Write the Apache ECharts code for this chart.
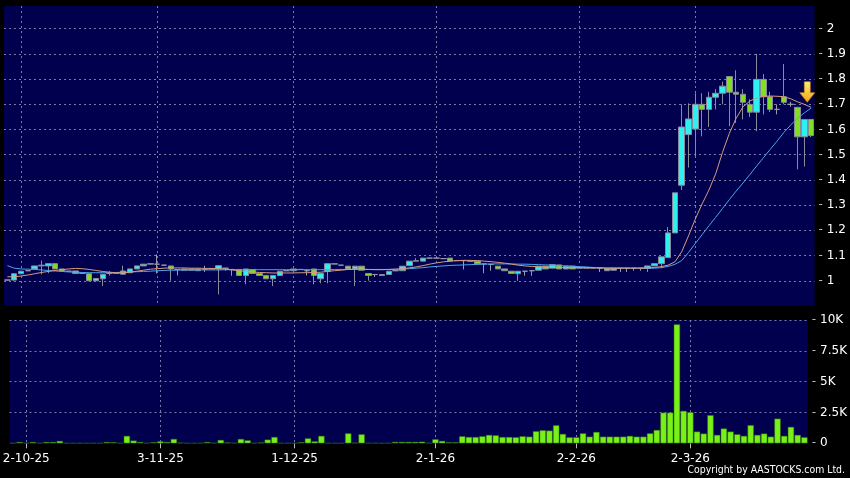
<!DOCTYPE html>
<html><head><meta charset="utf-8">
<script src="https://cdn.jsdelivr.net/npm/echarts@6/dist/echarts.min.js"></script>
<style>html,body{margin:0;padding:0;background:#000;}#c{width:850px;height:478px;}</style>
</head><body><div id="c"></div>
<script>
const dates = ["29-9-25","30-9-25",
"2-10-25","3-10-25","6-10-25","8-10-25","9-10-25","10-10-25","13-10-25","14-10-25","15-10-25","16-10-25","17-10-25","20-10-25","21-10-25","22-10-25","23-10-25","24-10-25","27-10-25","28-10-25","30-10-25","31-10-25",
"3-11-25","4-11-25","5-11-25","6-11-25","7-11-25","10-11-25","11-11-25","12-11-25","13-11-25","14-11-25","17-11-25","18-11-25","19-11-25","20-11-25","21-11-25","24-11-25","25-11-25","26-11-25","27-11-25","28-11-25",
"1-12-25","2-12-25","3-12-25","4-12-25","5-12-25","8-12-25","9-12-25","10-12-25","11-12-25","12-12-25","15-12-25","16-12-25","17-12-25","18-12-25","19-12-25","22-12-25","23-12-25","24-12-25","29-12-25","30-12-25","31-12-25",
"2-1-26","5-1-26","6-1-26","7-1-26","8-1-26","9-1-26","12-1-26","13-1-26","14-1-26","15-1-26","16-1-26","19-1-26","20-1-26","21-1-26","22-1-26","23-1-26","26-1-26","27-1-26","28-1-26","29-1-26","30-1-26",
"2-2-26","3-2-26","4-2-26","5-2-26","6-2-26","9-2-26","10-2-26","11-2-26","12-2-26","13-2-26","16-2-26","20-2-26","23-2-26","24-2-26","25-2-26","26-2-26","27-2-26",
"2-3-26","3-3-26","4-3-26","5-3-26","6-3-26","9-3-26","10-3-26","11-3-26","12-3-26","13-3-26","16-3-26","17-3-26","18-3-26","19-3-26","20-3-26","23-3-26","24-3-26","25-3-26"];

const opens = [1.003,1.003,1.028,1.040,1.047,1.059,1.059,1.068,1.047,1.038,1.039,1.030,1.028,1.000,1.008,1.030,1.030,1.026,1.032,1.047,
1.059,1.066,1.066,1.062,1.059,1.045,1.047,1.042,1.047,1.045,1.047,1.047,1.050,1.045,1.045,1.021,1.045,1.029,1.021,1.008,
1.021,1.040,1.040,1.045,1.040,1.047,1.008,1.038,1.066,1.062,1.058,1.047,1.058,1.029,1.025,1.021,1.025,1.040,1.040,1.060,
1.078,1.078,1.090,1.090,1.088,1.090,1.080,1.080,1.078,1.078,1.067,1.065,1.058,1.047,1.038,1.028,1.038,1.040,1.042,1.058,
1.050,1.063,1.047,1.058,1.050,1.052,1.050,1.050,1.049,1.042,1.050,1.050,1.050,1.050,1.049,1.059,1.068,1.092,1.190,1.379,
1.580,1.602,1.700,1.680,1.728,1.744,1.810,1.748,1.740,1.700,1.669,1.799,1.730,1.680,1.730,1.700,1.688,1.571,1.640];
const closes = [1.003,1.028,1.038,1.040,1.059,1.062,1.068,1.047,1.038,1.038,1.029,1.030,1.000,1.009,1.026,1.030,1.030,1.039,1.047,1.059,
1.066,1.068,1.066,1.062,1.047,1.045,1.042,1.047,1.040,1.045,1.047,1.060,1.050,1.045,1.021,1.047,1.029,1.021,1.008,1.021,
1.038,1.040,1.047,1.045,1.040,1.021,1.029,1.068,1.068,1.062,1.047,1.058,1.042,1.021,1.025,1.025,1.038,1.040,1.058,1.078,
1.080,1.090,1.090,1.090,1.088,1.078,1.080,1.080,1.078,1.067,1.067,1.065,1.047,1.040,1.029,1.038,1.038,1.040,1.058,1.047,
1.064,1.047,1.058,1.047,1.052,1.050,1.052,1.050,1.040,1.050,1.050,1.050,1.050,1.050,1.059,1.068,1.095,1.190,1.349,1.610,
1.642,1.700,1.680,1.728,1.744,1.772,1.748,1.740,1.708,1.669,1.799,1.730,1.680,1.680,1.708,1.700,1.571,1.640,1.576];
const lows = [1.003,1.000,1.028,1.040,1.047,1.025,1.030,1.047,1.038,1.038,1.029,1.030,1.000,1.000,0.979,1.021,1.030,1.026,1.032,1.047,
1.059,1.066,1.029,1.062,1.000,1.021,1.042,1.042,1.040,1.035,1.047,0.946,1.040,1.020,1.021,0.986,1.029,1.021,1.008,0.979,
1.021,1.040,1.040,1.045,1.021,0.986,0.990,0.990,1.066,1.062,1.047,0.979,1.042,1.000,1.015,1.021,1.025,1.040,1.040,1.060,
1.078,1.078,1.090,1.090,1.088,1.078,1.080,1.045,1.078,1.067,1.030,1.040,1.047,1.040,1.029,1.000,1.020,1.020,1.042,1.047,
1.050,1.047,1.047,1.047,1.050,1.050,1.050,1.035,1.040,1.042,1.035,1.035,1.040,1.040,1.035,1.059,1.050,1.092,1.190,1.360,
1.449,1.495,1.573,1.610,1.680,1.700,1.613,1.626,1.640,1.650,1.593,1.660,1.670,1.660,1.700,1.690,1.442,1.453,1.570];
const highs = [1.003,1.030,1.040,1.040,1.060,1.080,1.068,1.068,1.047,1.038,1.039,1.030,1.028,1.009,1.026,1.038,1.030,1.060,1.047,1.059,
1.066,1.068,1.105,1.062,1.059,1.045,1.047,1.047,1.047,1.060,1.047,1.060,1.050,1.045,1.045,1.047,1.045,1.029,1.021,1.021,
1.038,1.040,1.047,1.045,1.047,1.047,1.029,1.068,1.068,1.062,1.058,1.058,1.058,1.029,1.025,1.025,1.038,1.040,1.058,1.078,
1.090,1.090,1.090,1.090,1.088,1.090,1.080,1.080,1.078,1.078,1.067,1.065,1.058,1.047,1.038,1.038,1.038,1.040,1.058,1.058,
1.064,1.063,1.058,1.058,1.052,1.052,1.052,1.050,1.049,1.050,1.050,1.050,1.050,1.050,1.059,1.068,1.095,1.213,1.349,1.700,
1.704,1.744,1.744,1.750,1.760,1.790,1.810,1.835,1.760,1.720,1.900,1.820,1.750,1.700,1.860,1.710,1.690,1.640,1.640];
const volumes = [20,100,30,100,30,100,100,190,20,10,20,10,20,20,100,80,20,600,220,100,
20,80,160,100,350,50,20,20,20,100,30,270,60,40,350,240,30,60,300,510,
30,10,20,80,400,160,600,20,20,10,810,50,730,20,30,10,10,110,110,110,
110,130,20,330,190,80,80,570,510,510,570,680,650,510,510,490,570,540,980,1060,
1030,1460,760,490,490,810,540,920,540,540,540,540,600,540,540,810,1080,2490,2490,9650,
2630,2520,950,790,2280,680,1200,950,730,600,1470,680,790,540,2000,600,1330,680,490];
const ma10 = [1.016,1.016,1.019,1.023,1.028,1.033,1.037,1.041,1.044,1.047,1.049,1.048,1.045,1.041,1.037,1.034,1.032,1.032,1.034,1.038,
1.042,1.046,1.048,1.050,1.051,1.051,1.051,1.050,1.050,1.049,1.049,1.048,1.046,1.043,1.040,1.037,1.035,1.033,1.032,1.031,
1.031,1.031,1.031,1.032,1.032,1.033,1.034,1.037,1.040,1.042,1.045,1.046,1.046,1.045,1.044,1.044,1.045,1.046,1.048,1.051,
1.055,1.060,1.066,1.071,1.075,1.078,1.080,1.081,1.081,1.080,1.078,1.076,1.073,1.070,1.066,1.062,1.059,1.057,1.055,1.054,
1.053,1.052,1.052,1.052,1.052,1.052,1.051,1.051,1.050,1.050,1.050,1.050,1.050,1.050,1.051,1.053,1.056,1.062,1.075,1.115,
1.178,1.245,1.305,1.360,1.425,1.510,1.585,1.645,1.690,1.713,1.725,1.732,1.733,1.732,1.730,1.722,1.710,1.700,1.688];
const ma20 = [1.060,1.050,1.047,1.046,1.045,1.043,1.041,1.039,1.037,1.035,1.034,1.033,1.032,1.032,1.032,1.032,1.033,1.034,1.035,1.036,
1.037,1.038,1.040,1.041,1.042,1.042,1.043,1.043,1.043,1.043,1.043,1.043,1.044,1.044,1.044,1.044,1.044,1.044,1.044,1.044,
1.044,1.044,1.044,1.044,1.044,1.044,1.044,1.044,1.045,1.045,1.045,1.045,1.045,1.045,1.045,1.045,1.045,1.046,1.047,1.048,
1.050,1.052,1.055,1.057,1.059,1.061,1.062,1.063,1.064,1.065,1.066,1.067,1.067,1.067,1.067,1.066,1.066,1.065,1.064,1.063,
1.062,1.060,1.059,1.058,1.056,1.055,1.053,1.052,1.051,1.051,1.050,1.050,1.050,1.050,1.050,1.050,1.052,1.057,1.065,1.080,
1.112,1.148,1.183,1.218,1.252,1.287,1.322,1.356,1.388,1.421,1.455,1.488,1.521,1.554,1.588,1.618,1.645,1.666,1.685];
const priceTicks = {min: 0.9, max: 2.09, step: 0.1};
const volumeTicks = {min: 0, max: 10000, step: 2500};
const arrowMark = {date: "24-3-26", price: 1.749};

const candles = dates.map((d, i) => [opens[i], closes[i], lows[i], highs[i]]);
const month = s => s.split('-')[1];
const isMonthStart = (idx) => idx > 0 && month(dates[idx]) !== month(dates[idx - 1]);

const FONT = '"DejaVu Sans", Verdana, sans-serif';
const gridLine = {show: true, lineStyle: {color: '#7a7aa6', width: 1, type: [2, 3]}};
const rich = {d: {color: '#bbbbbb', fontSize: 12, fontFamily: FONT, padding: [0, 4, 0, 0]}};

const chart = echarts.init(document.getElementById('c'), null, {renderer: 'canvas'});
chart.setOption({
  animation: false,
  backgroundColor: '#000000',
  textStyle: {fontFamily: FONT},
  grid: [
    {left: 4, right: 35.5, top: 6, height: 300, show: true, backgroundColor: '#00004f', borderWidth: 0},
    {left: 4, right: 35.5, top: 320, height: 123.3, show: true, backgroundColor: '#00004f', borderWidth: 0}
  ],
  xAxis: [
    {type: 'category', gridIndex: 0, data: dates, boundaryGap: true,
     axisLine: {show: false}, axisTick: {show: false},
     axisLabel: {show: false, interval: isMonthStart},
     splitLine: Object.assign({interval: isMonthStart, alignWithLabel: true}, gridLine)},
    {type: 'category', gridIndex: 1, data: dates, boundaryGap: true,
     axisLine: {show: false},
     axisTick: {show: true, interval: isMonthStart, alignWithLabel: true, length: 5, lineStyle: {color: '#bbbbbb'}},
     axisLabel: {show: true, interval: isMonthStart, color: '#ffffff', fontSize: 12, fontFamily: FONT, margin: 10},
     splitLine: Object.assign({interval: isMonthStart, alignWithLabel: true}, gridLine)}
  ],
  yAxis: [
    {type: 'value', gridIndex: 0, position: 'right', min: priceTicks.min, max: priceTicks.max, interval: priceTicks.step,
     axisLine: {show: false}, axisTick: {show: false},
     axisLabel: {showMinLabel: false, showMaxLabel: false, margin: 4, color: '#ffffff', fontSize: 12, fontFamily: FONT,
       formatter: v => '{d|-}' + parseFloat(v.toFixed(2)), rich: rich},
     splitLine: Object.assign({showMinLine: false, showMaxLine: false}, gridLine)},
    {type: 'value', gridIndex: 1, position: 'right', min: volumeTicks.min, max: volumeTicks.max, interval: volumeTicks.step,
     axisLine: {show: false}, axisTick: {show: false},
     axisLabel: {margin: 4, color: '#ffffff', fontSize: 12, fontFamily: FONT,
       formatter: v => '{d|-}' + (v === 0 ? '0' : parseFloat((v / 1000).toFixed(1)) + 'K'), rich: rich},
     splitLine: Object.assign({showMinLine: false}, gridLine)}
  ],
  series: [
    {type: 'candlestick', xAxisIndex: 0, yAxisIndex: 0, data: candles, barWidth: 6, barMaxWidth: 6,
     itemStyle: {color: '#2ef0f0', color0: '#7fe021', borderColor: '#8a8a9a', borderColor0: '#8a8a9a', borderColorDoji: '#9a9aaa', borderWidth: 1},
     markPoint: {
       symbol: 'path://M4.5,0 L10.5,0 L10.5,11 L15,11 L7.5,20.6 L0,11 L4.5,11 Z',
       symbolSize: [15, 20.6], symbolOffset: [3, 0],
       label: {show: false},
       itemStyle: {color: new echarts.graphic.LinearGradient(0, 0, 0, 1, [{offset: 0, color: '#fff07a'}, {offset: 1, color: '#f2a20c'}]), borderColor: '#c98a10', borderWidth: 0.6},
       data: [{coord: [arrowMark.date, arrowMark.price]}]
     }},
    {type: 'line', xAxisIndex: 0, yAxisIndex: 0, data: ma20, symbol: 'none', z: 3,
     lineStyle: {color: '#4aa3ee', width: 1}},
    {type: 'line', xAxisIndex: 0, yAxisIndex: 0, data: ma10, symbol: 'none', z: 3,
     lineStyle: {color: '#d99a7c', width: 1}},
    {type: 'bar', xAxisIndex: 1, yAxisIndex: 1, data: volumes, barWidth: 6.3,
     itemStyle: {color: '#79f019', borderColor: '#2f6a0c', borderWidth: 0.5}}
  ],
  graphic: [
    {type: 'text', right: 5, top: 465, style: {text: 'Copyright by AASTOCKS.com Ltd.', fill: '#ffffff', fontSize: 10.4, fontFamily: '"DejaVu Sans Condensed", "DejaVu Sans", sans-serif'}}
  ]
});
</script></body></html>
